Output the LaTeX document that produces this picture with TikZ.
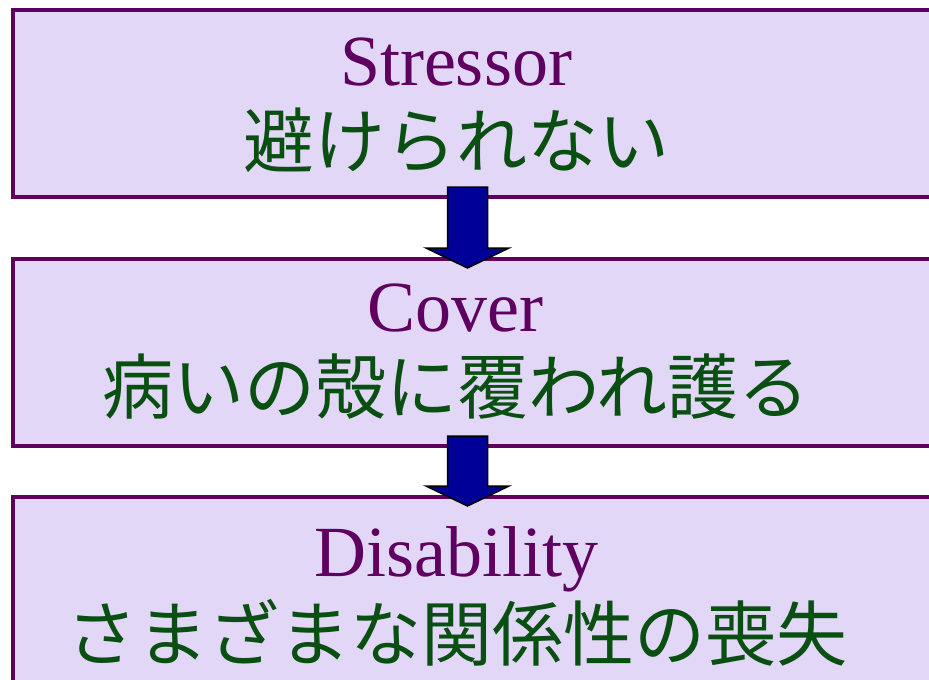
\documentclass[tikz,border=0pt]{standalone}
\usepackage{fontspec}
\setmainfont{Liberation Serif}
\newfontfamily\jpfont{Noto Sans CJK JP}
\usetikzlibrary{calc}

\definecolor{boxline}{HTML}{5F0060}
\definecolor{boxfill}{HTML}{E2D7F7}
\definecolor{arrowfill}{HTML}{000099}
\definecolor{jpgreen}{HTML}{0A4F12}

\begin{document}
\begin{tikzpicture}[x=1pt,y=-1pt,
  box/.style={draw=boxline,line width=4pt,fill=boxfill,minimum width=960pt,anchor=north west,inner sep=0pt},
  en/.style={text=boxline,anchor=base,font=\fontsize{72}{72}\selectfont},
  jp/.style={text=jpgreen,anchor=base,font=\jpfont\fontsize{71}{71}\selectfont},
  blockarrow/.style={draw=black,line width=1.5pt,fill=arrowfill,line join=miter}]
\useasboundingbox (0,0) rectangle (929,680);
\clip (0,0) rectangle (929,680);
% boxes
\node[box,minimum height=187pt] (stress) at (10.5,8) {};
\node[box,minimum height=187pt] (cover) at (10.5,257) {};
\node[box,minimum height=220pt] (dis) at (10.5,495) {};
% texts
\node[en] (stressEn) at (456,85) {Stressor};
\node[jp] (stressJp) at (456,167) {避けられない};
\node[en] (coverEn) at (455,331.5) {Cover};
\node[jp] (coverJp) at (456,413) {病いの殻に覆われ護る};
\node[en] (disEn) at (456.5,576.5) {Disability};
\node[jp] (disJp) at (457,660) {さまざまな関係性の喪失};
% arrows
\coordinate (ax) at (467.5,0);
\foreach \a/\b in {stress/cover,cover/dis}
  \draw[blockarrow] ($(ax |- \a.south)+(-20,-12)$) -- ($(ax |- \a.south)+(20,-12)$)
    -- ($(ax |- \b.north)+(20,-9)$) -- ($(ax |- \b.north)+(41.5,-9)$)
    -- ($(ax |- \b.north)+(0,11)$) -- ($(ax |- \b.north)+(-41.5,-9)$)
    -- ($(ax |- \b.north)+(-20,-9)$) -- cycle;
\end{tikzpicture}
\end{document}
